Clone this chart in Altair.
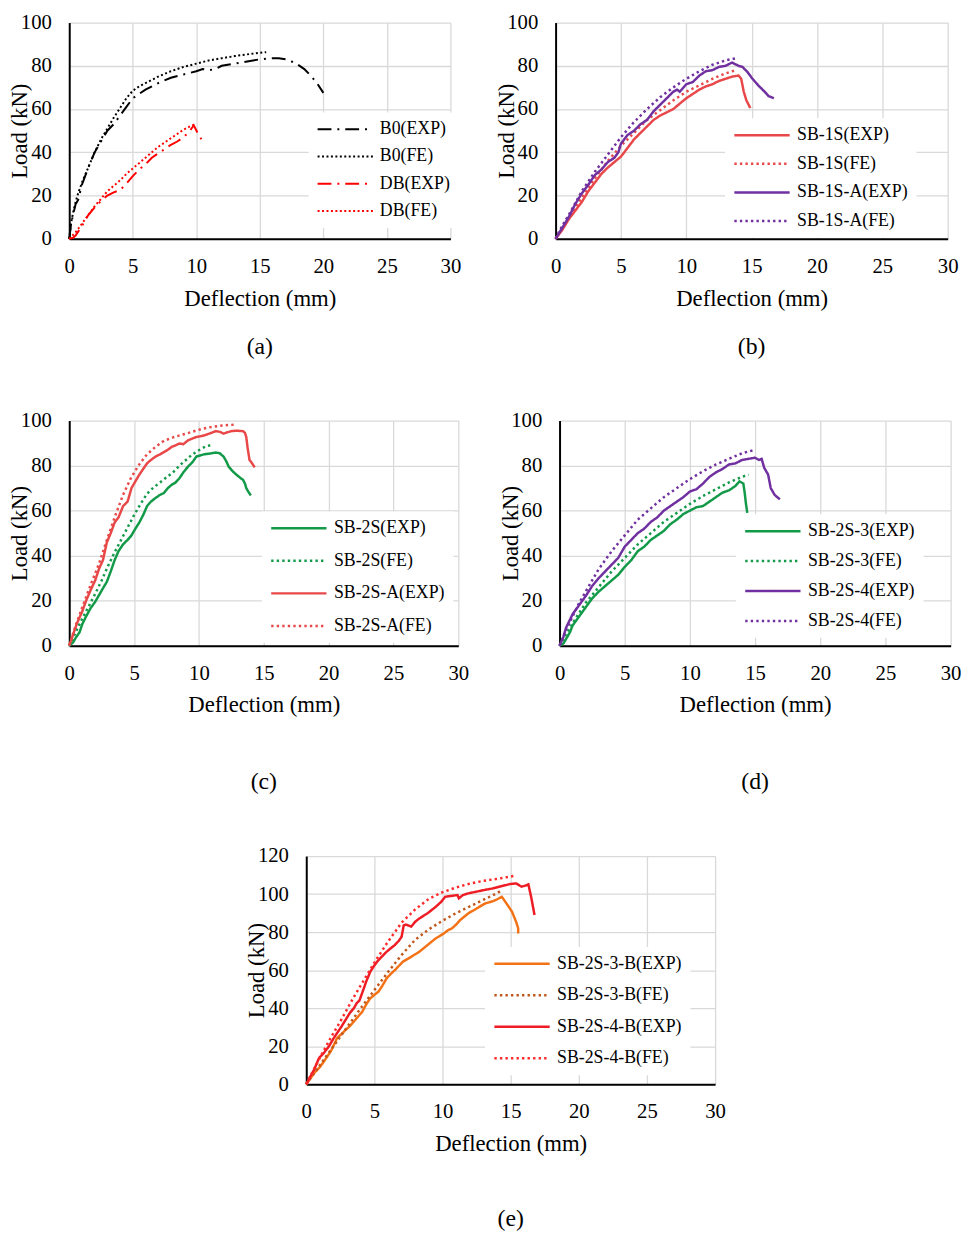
import altair as alt
import pandas as pd

FONT = "Liberation Serif"
X_TICKS = [0, 5, 10, 15, 20, 25, 30]
Y_TICKS_100 = [0, 20, 40, 60, 80, 100]
Y_TICKS_120 = [0, 20, 40, 60, 80, 100, 120]

# ---------------- (a) ----------------
A_NAMES = ["B0(EXP)", "B0(FE)", "DB(EXP)", "DB(FE)"]
A_COLORS = ["#000000", "#000000", "#ff0000", "#ff0000"]
A_B0_EXP_X = [0, 0.15, 0.3, 0.5, 0.7, 1.0, 1.5, 2.0, 2.5, 3.0, 3.5, 4.0, 4.5, 5.0, 5.5, 6, 7, 8, 9, 10, 10.5, 11, 11.5, 12, 13, 14, 15, 16, 16.5, 17, 17.5, 18, 18.5, 19, 19.5, 20]
A_B0_EXP_Y = [0, 7, 11, 16, 18, 25, 33, 40, 45, 50, 53, 57, 61, 65, 67, 69, 72, 74.5, 76, 77.5, 78.5, 78, 78.5, 80, 81, 82, 83, 83.5, 83.5, 83, 82, 80.5, 78.5, 75.5, 72, 67.5]
A_B0_FE_X = [0, 0.1, 0.2, 0.3, 0.5, 0.7, 1, 1.5, 2, 2.5, 3, 3.5, 4, 4.5, 5, 5.5, 6, 7, 8, 9, 10, 11, 12, 13, 14, 15, 15.5]
A_B0_FE_Y = [0, 5, 9, 12, 17, 21, 26, 33, 40, 46, 51, 56, 60.5, 65, 68.5, 70.5, 72, 75, 77.5, 79.5, 81, 82.5, 83.5, 84.5, 85.3, 86, 86.3]
A_DB_EXP_X = [0, 0.3, 0.5, 1, 1.5, 2, 2.5, 3, 3.5, 4, 4.5, 5, 5.5, 6, 6.5, 7, 7.5, 8, 8.5, 9, 9.5, 9.8, 10.1, 10.4, 10.6]
A_DB_EXP_Y = [0, 0.5, 1.5, 6, 11, 14.5, 17.5, 20, 21.5, 22.5, 25.5, 29, 32, 34.5, 37.5, 39.5, 41.5, 43.5, 45, 47, 50, 52.5, 49, 46, 43.7]
A_DB_FE_X = [0, 0.5, 1, 1.5, 2, 2.5, 3, 3.5, 4, 4.5, 5, 5.5, 6, 6.5, 7, 7.5, 8, 8.5, 9, 9.5, 9.9]
A_DB_FE_Y = [0, 3, 7, 11, 15, 18.5, 22, 24.5, 27, 30, 32.5, 35, 37.5, 40, 42.5, 44.5, 46.5, 48.5, 50.5, 52, 53]

# ---------------- (b) ----------------
B_NAMES = ["SB-1S(EXP)", "SB-1S(FE)", "SB-1S-A(EXP)", "SB-1S-A(FE)"]
B_COLORS = ["#e8484a", "#e8484a", "#7030a0", "#7030a0"]
B_1S_EXP_X = [0, 0.5, 1, 1.5, 2, 2.5, 3, 3.5, 4, 4.5, 5, 5.5, 6, 6.5, 7, 7.5, 8, 8.5, 9, 9.5, 10, 10.5, 11, 11.5, 12, 12.5, 13, 13.5, 14, 14.2, 14.4, 14.6, 14.9]
B_1S_EXP_Y = [0, 4, 9, 13, 17, 22, 26, 30, 33, 35.5, 38, 42, 46, 49, 52, 55, 57, 58.5, 60, 62.5, 65, 67, 69, 70.5, 71.5, 73, 74, 75, 75.5, 74, 68, 64, 60.5]
B_1S_FE_X = [0, 0.5, 1, 1.5, 2, 3, 4, 5, 6, 7, 8, 9, 10, 11, 12, 13, 13.8]
B_1S_FE_Y = [0, 5, 10, 14.5, 19, 28, 36, 43, 49, 55, 59.5, 64, 68, 71, 74, 76.5, 78]
B_1SA_EXP_X = [0, 0.5, 1, 1.5, 2, 2.5, 3, 3.5, 4, 4.5, 4.8, 5, 5.5, 6, 6.5, 7, 7.5, 8, 8.5, 9, 9.3, 9.5, 10, 10.5, 11, 11.5, 12, 12.5, 13, 13.5, 14, 14.3, 14.7, 15, 15.5, 16, 16.3, 16.7]
B_1SA_EXP_Y = [0, 5, 10, 16, 21, 25, 29.5, 32, 35.5, 37.5, 40, 44, 48, 50, 53, 55, 59, 62, 65, 68, 69, 68, 71.5, 72.5, 75.5, 77.5, 78, 79.5, 80, 81.5, 80, 79.5, 77, 74.5, 71, 68, 66, 65]
B_1SA_FE_X = [0, 0.5, 1, 1.5, 2, 3, 4, 5, 6, 7, 8, 9, 10, 11, 12, 13, 13.8]
B_1SA_FE_Y = [0, 6, 11, 16.5, 22, 31, 39, 47, 54, 60, 65.5, 70, 74, 77.5, 80.5, 82.5, 83.5]

# ---------------- (c) ----------------
C_NAMES = ["SB-2S(EXP)", "SB-2S(FE)", "SB-2S-A(EXP)", "SB-2S-A(FE)"]
C_COLORS = ["#129a48", "#129a48", "#e84848", "#e84848"]
C_2S_EXP_X = [0, 0.3, 0.5, 0.8, 1.0, 1.3, 1.65, 2.0, 2.3, 2.6, 2.9, 3.2, 3.5, 3.8, 4.15, 4.5, 4.8, 5.1, 5.4, 5.7, 6.0, 6.3, 6.65, 7.0, 7.3, 7.6, 7.9, 8.2, 8.5, 8.8, 9.15, 9.5, 9.8, 10.1, 10.4, 10.8, 11.3, 11.6, 11.9, 12.1, 12.3, 12.6, 12.9, 13.2, 13.4, 13.55, 13.65, 13.8, 14.0]
C_2S_EXP_Y = [0, 1.5, 3.5, 6, 9.5, 13, 16.7, 19.5, 22.5, 25.5, 28.4, 33, 38, 42, 45, 47, 49, 52, 54.7, 58, 62, 64, 65.6, 67, 67.8, 70, 71.5, 72.5, 74.4, 77, 79.5, 81.5, 84, 84.5, 85, 85.3, 85.8, 85.5, 84, 82, 79.5, 77.5, 75.9, 74.5, 73.7, 72, 70, 68.5, 66.7]
C_2S_FE_X = [0, 0.5, 1, 1.5, 2, 2.5, 3, 3.5, 4, 4.5, 5, 5.5, 6, 6.5, 7, 7.5, 8, 8.5, 9, 9.5, 10, 10.5, 11.1]
C_2S_FE_Y = [0, 6, 12, 17.5, 23, 29, 35.5, 41.5, 47, 52.5, 58, 63, 67.5, 70.3, 72.5, 74.8, 77, 80, 82.5, 85, 86.8, 88.5, 89.3]
C_2SA_EXP_X = [0, 0.3, 0.6, 1.0, 1.3, 1.65, 2.0, 2.3, 2.6, 2.9, 3.2, 3.5, 3.8, 4.15, 4.5, 4.8, 5.1, 5.4, 5.7, 6.0, 6.3, 6.65, 7.0, 7.3, 7.6, 7.9, 8.2, 8.5, 8.8, 9.15, 9.5, 9.8, 10.1, 10.4, 10.8, 11.3, 11.6, 11.9, 12.2, 12.5, 12.9, 13.4, 13.55, 13.65, 13.75, 13.9, 14.1, 14.3]
C_2SA_EXP_Y = [0, 5, 10, 15.2, 20, 24.7, 29, 34.2, 38, 45.9, 50, 54.7, 57, 62, 64, 70, 73, 75.9, 78.5, 81, 82.5, 84, 85, 86, 87, 88.3, 89, 89.8, 89.5, 91.2, 92, 92.7, 93, 93.4, 94.2, 95.3, 95, 94.2, 94.8, 95.3, 95.5, 95.3, 94.5, 92.7, 88, 82.5, 81, 79.2]
C_2SA_FE_X = [0, 0.5, 1, 1.65, 2.3, 2.9, 3.5, 4.15, 4.8, 5.4, 6.0, 6.65, 7.3, 8.0, 8.5, 9.2, 9.8, 10.4, 11.0, 11.8, 12.8]
C_2SA_FE_Y = [0, 9, 17, 27, 36.5, 47, 57, 67, 75, 80.5, 85, 88.3, 91, 92.5, 93.4, 94.5, 95.6, 96.5, 97.2, 97.8, 98.2]

# ---------------- (d) ----------------
D_NAMES = ["SB-2S-3(EXP)", "SB-2S-3(FE)", "SB-2S-4(EXP)", "SB-2S-4(FE)"]
D_COLORS = ["#129a48", "#129a48", "#7030a0", "#7030a0"]
D_3_EXP_X = [0, 0.3, 0.5, 0.8, 1, 1.5, 2, 2.5, 3, 3.5, 4, 4.5, 5, 5.5, 6, 6.5, 7, 7.5, 8, 8.5, 9, 9.5, 10, 10.5, 11, 11.5, 12, 12.5, 13, 13.5, 13.8, 14.1, 14.2, 14.3, 14.4]
D_3_EXP_Y = [0, 1, 3, 6, 9, 13, 17, 21, 24, 26.5, 29, 31.5, 35, 38, 42, 44, 47, 49, 51, 54, 56, 58.5, 60, 61.5, 62, 64, 66, 68, 69, 71, 73, 72, 68, 63, 59]
D_3_FE_X = [0, 0.5, 1, 1.5, 2, 3, 4, 5, 6, 7, 8, 9, 10, 11, 12, 13, 14, 14.5]
D_3_FE_Y = [0, 5, 10, 14.5, 19, 26, 33, 39, 45, 50, 55, 59, 63, 66.5, 69.5, 72.5, 75, 76]
D_4_EXP_X = [0, 0.3, 0.5, 1, 1.5, 2, 2.5, 3, 3.5, 4, 4.5, 5, 5.5, 6, 6.5, 7, 7.5, 8, 8.5, 9, 9.5, 10, 10.5, 11, 11.5, 12, 12.5, 13, 13.5, 14, 14.5, 15, 15.3, 15.5, 15.7, 16, 16.2, 16.5, 16.9]
D_4_EXP_Y = [0, 4, 8, 14, 18, 22, 26.5, 30, 33, 36, 39, 44, 47, 50, 52, 55, 57, 60, 62, 64, 66, 68.5, 69.5, 72, 75, 77, 78.5, 80.5, 81, 82.5, 83, 83.5, 82.5, 83, 79, 76, 70, 67, 65]
D_4_FE_X = [0, 0.5, 1, 1.5, 2, 3, 4, 5, 6, 7, 8, 9, 10, 11, 12, 13, 14, 15]
D_4_FE_Y = [0, 7, 13, 19, 24, 34, 42, 49, 56, 61, 66, 70, 74, 77.5, 80.5, 83, 85.5, 87]

# ---------------- (e) ----------------
E_NAMES = ["SB-2S-3-B(EXP)", "SB-2S-3-B(FE)", "SB-2S-4-B(EXP)", "SB-2S-4-B(FE)"]
E_COLORS = ["#f47216", "#c0561a", "#ee1c25", "#ff2a2a"]
E_3B_EXP_X = [0, 0.3, 0.6, 1.0, 1.3, 1.8, 2.27, 2.6, 2.9, 3.2, 3.5, 3.8, 4.1, 4.4, 4.7, 5.0, 5.3, 5.6, 5.9, 6.2, 6.5, 7.1, 7.7, 8.3, 8.9, 9.5, 10.1, 10.4, 10.7, 11.0, 11.3, 11.9, 12.5, 13.1, 13.7, 14.0, 14.35, 14.7, 15.1, 15.4, 15.55, 15.55]
E_3B_EXP_Y = [0, 3, 6, 9, 12, 17.3, 24.3, 26.5, 28.6, 30.5, 33, 35.5, 38, 42, 45.2, 47, 48.7, 52, 55.7, 58, 60, 64.5, 67, 69.7, 73.2, 76.7, 79.3, 81, 82, 84, 86.4, 89.9, 92.4, 95, 96.3, 97.2, 98.6, 95, 90.7, 85.4, 82, 79.3]
E_3B_FE_X = [0, 1, 2, 3, 4, 5, 6, 7, 8, 9, 10, 11, 12, 13, 14, 14.35]
E_3B_FE_Y = [0, 10, 20, 30, 40, 49.5, 59, 68, 76, 81.5, 86, 90, 93.5, 97, 100.5, 102]
E_4B_EXP_X = [0, 0.3, 0.58, 0.94, 1.3, 1.67, 2.0, 2.27, 2.6, 2.9, 3.2, 3.5, 3.7, 3.9, 4.1, 4.4, 4.7, 5.0, 5.3, 5.6, 5.9, 6.2, 6.5, 6.8, 7.0, 7.15, 7.3, 7.7, 8.0, 8.3, 8.9, 9.5, 9.9, 10.2, 10.6, 11.1, 11.2, 11.5, 11.9, 12.5, 13.1, 13.7, 14.35, 14.95, 15.4, 15.8, 16.1, 16.3, 16.5, 16.75]
E_4B_EXP_Y = [0, 4, 7.7, 13.8, 16.5, 20, 24, 27, 30.5, 34, 37.5, 40, 42.6, 44, 47.9, 54, 59.2, 62.5, 65.3, 67.5, 69.7, 71.5, 73.2, 75.5, 77.6, 83.5, 84, 82.9, 85.5, 87.2, 89.9, 93.3, 95.9, 98.6, 99, 99.5, 97.8, 99.5, 100.4, 101.3, 102.2, 103, 104.2, 105.3, 105.6, 103.9, 104.5, 105.1, 98.6, 89]
E_4B_FE_X = [0, 0.5, 1, 1.5, 2, 2.5, 3, 3.5, 4, 4.5, 5, 5.5, 6, 6.5, 7, 8, 9, 10, 11, 12, 13, 14, 15.2]
E_4B_FE_Y = [0, 7, 14, 20.5, 27, 33, 39.5, 46, 52, 58, 64, 69.5, 75, 80, 85, 92, 97.5, 101, 103.5, 105.5, 107, 108, 109.5]

DASH_DOT = [14, 6, 2, 6]
DOT_A = [2, 2.5]
SOLID = [1, 0]
DOT = [2.4, 3.2]


def make_df(names, xs_list, ys_list):
    rows = []
    for n, xs, ys in zip(names, xs_list, ys_list):
        for i, (x, y) in enumerate(zip(xs, ys)):
            rows.append({"series": n, "x": x, "y": y, "i": i})
    return pd.DataFrame(rows)


def panel(df, names, colors, dashes, w, h, ymax, yticks, lx, ly, rowpad, sub, sub_offset, sw):
    leg = alt.Legend(title=None, orient="none", legendX=lx, legendY=ly, rowPadding=rowpad,
                     symbolType="stroke", symbolSize=3136, symbolStrokeWidth=sw, clipHeight=18,
                     labelFont=FONT, labelFontSize=18, labelColor="black", labelOffset=6,
                     fillColor="white", padding=8)
    return alt.Chart(df).mark_line(strokeWidth=sw).encode(
        x=alt.X("x:Q", scale=alt.Scale(domain=[0, 30], nice=False),
                axis=alt.Axis(values=X_TICKS, title="Deflection (mm)", labelFlush=False)),
        y=alt.Y("y:Q", scale=alt.Scale(domain=[0, ymax], nice=False),
                axis=alt.Axis(values=yticks, title="Load (kN)", titleX=-43, titleY=h / 2,
                              titleAngle=270, titleBaseline="alphabetic", labelFlush=False)),
        color=alt.Color("series:N", scale=alt.Scale(domain=names, range=colors), legend=leg),
        strokeDash=alt.StrokeDash("series:N", scale=alt.Scale(domain=names, range=dashes), legend=leg),
        order=alt.Order("i:Q"),
    ).properties(width=w, height=h,
                 title=alt.TitleParams(sub, orient="bottom", offset=sub_offset, frame="group",
                                       anchor="middle", font=FONT, fontSize=24,
                                       fontWeight="normal", color="black"))


df_a = make_df(A_NAMES, [A_B0_EXP_X, A_B0_FE_X, A_DB_EXP_X, A_DB_FE_X], [A_B0_EXP_Y, A_B0_FE_Y, A_DB_EXP_Y, A_DB_FE_Y])
df_b = make_df(B_NAMES, [B_1S_EXP_X, B_1S_FE_X, B_1SA_EXP_X, B_1SA_FE_X], [B_1S_EXP_Y, B_1S_FE_Y, B_1SA_EXP_Y, B_1SA_FE_Y])
df_c = make_df(C_NAMES, [C_2S_EXP_X, C_2S_FE_X, C_2SA_EXP_X, C_2SA_FE_X], [C_2S_EXP_Y, C_2S_FE_Y, C_2SA_EXP_Y, C_2SA_FE_Y])
df_d = make_df(D_NAMES, [D_3_EXP_X, D_3_FE_X, D_4_EXP_X, D_4_FE_X], [D_3_EXP_Y, D_3_FE_Y, D_4_EXP_Y, D_4_FE_Y])
df_e = make_df(E_NAMES, [E_3B_EXP_X, E_3B_FE_X, E_4B_EXP_X, E_4B_FE_X], [E_3B_EXP_Y, E_3B_FE_Y, E_4B_EXP_Y, E_4B_FE_Y])

pa = panel(df_a, A_NAMES, A_COLORS, [DASH_DOT, DOT_A, DASH_DOT, DOT_A], 386, 219, 100, Y_TICKS_100,
           242.5, 91, 9.6, "(a)", 26, 2)
pb = panel(df_b, B_NAMES, B_COLORS, [SOLID, DOT, SOLID, DOT], 397, 219, 100, Y_TICKS_100,
           171.5, 97, 11, "(b)", 26, 2.5)
pc = panel(df_c, C_NAMES, C_COLORS, [SOLID, DOT, SOLID, DOT], 394, 228, 100, Y_TICKS_100,
           195, 92, 15, "(c)", 54.5, 2.5)
pd_ = panel(df_d, D_NAMES, D_COLORS, [SOLID, DOT, SOLID, DOT], 396, 228, 100, Y_TICKS_100,
            178.5, 95, 12.3, "(d)", 54.5, 2.5)
pe = panel(df_e, E_NAMES, E_COLORS, [SOLID, DOT, SOLID, DOT], 414, 231, 120, Y_TICKS_120,
           181, 92, 13.9, "(e)", 53, 2.5)

spacer = alt.Chart(pd.DataFrame({"v": [0]})).mark_point(opacity=0).encode(
    x=alt.X("v:Q", axis=None), y=alt.Y("v:Q", axis=None)
).properties(width=179, height=10)


def indep(ch):
    return ch.resolve_scale(color="independent", strokeDash="independent").resolve_legend(
        color="independent", strokeDash="independent")


row1 = indep(alt.hconcat(pa, pb, spacing=34.5))
row2 = indep(alt.hconcat(pc, pd_, spacing=30.5))
row3 = indep(alt.hconcat(spacer, pe, spacing=0))

chart = indep(alt.vconcat(row1, row2, row3, spacing=51)).properties(
    padding={"top": -4, "left": 1, "right": 0, "bottom": 0}, background="white"
).configure_view(stroke=None).configure_axis(
    labelFont=FONT, labelFontSize=21, labelColor="black",
    titleFont=FONT, titleFontSize=23, titleFontWeight="normal", titleColor="black",
    gridColor="#d9d9d9", gridWidth=1.3, domainColor="black", domainWidth=2,
    ticks=False, tickSize=0
).configure_axisX(labelPadding=17, titlePadding=11, labelAngle=0).configure_axisY(labelPadding=18)

chart.save("out.html", embed_options={"renderer": "svg", "actions": False})
